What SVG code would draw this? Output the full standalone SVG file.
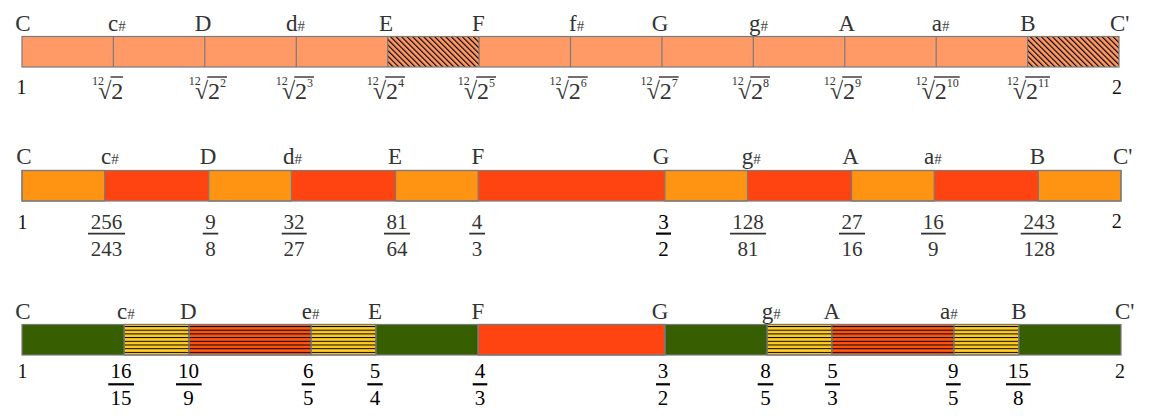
<svg xmlns="http://www.w3.org/2000/svg" width="1153" height="419" viewBox="0 0 1153 419">
<defs>
<style>
text{font-family:"Liberation Serif","DejaVu Serif",serif}
.nt{font-size:23px;fill:#333}
.nm{font-size:23px;fill:#333;text-anchor:middle}
.sh{font-size:15px;fill:#444}
.n1{font-size:20px;fill:#111;text-anchor:middle}
.fr{font-size:21px;fill:#333;text-anchor:middle}
.frb{font-size:21px;fill:#000;text-anchor:middle}
.fb{stroke:#333;stroke-width:1.8}
.fbb{stroke:#000;stroke-width:2.2}
.seg{stroke:#7b7b7b;stroke-width:1.2}
.idx{font-size:12px;fill:#333}
.rad{font-size:24px;fill:#333}
.rc{font-size:24px;fill:#333}
.ex{font-size:12px;fill:#333}
.ov{stroke:#333;stroke-width:1.4}
.top{fill:#FF9966}
.or{fill:#FF9412}
.rd{fill:#FF4411}
.gr{fill:#375E00}
.ye{fill:#FFCC22}
.ro{fill:#FF5511}
</style>
<pattern id="diag" width="3.9" height="10" patternUnits="userSpaceOnUse" patternTransform="rotate(-45)">
<rect width="1.15" height="10" fill="#000"/>
</pattern>
<pattern id="hs" x="0" y="326" width="10" height="3.7" patternUnits="userSpaceOnUse">
<rect width="10" height="1" fill="#000"/>
</pattern>
</defs>

<!-- Top bar: equal temperament -->
<g id="bar-equal">
<rect class="top" x="22" y="36.5" width="1097" height="30.5"/>
<rect fill="url(#diag)" x="387.7" y="36.5" width="91.4" height="30.5"/>
<rect fill="url(#diag)" x="1027.9" y="36.5" width="91.1" height="30.5"/>
<g class="seg">
<line x1="113.4" y1="36.5" x2="113.4" y2="67"/>
<line x1="204.8" y1="36.5" x2="204.8" y2="67"/>
<line x1="296.3" y1="36.5" x2="296.3" y2="67"/>
<line x1="387.7" y1="36.5" x2="387.7" y2="67"/>
<line x1="479.1" y1="36.5" x2="479.1" y2="67"/>
<line x1="570.5" y1="36.5" x2="570.5" y2="67"/>
<line x1="661.9" y1="36.5" x2="661.9" y2="67"/>
<line x1="753.3" y1="36.5" x2="753.3" y2="67"/>
<line x1="844.8" y1="36.5" x2="844.8" y2="67"/>
<line x1="936.2" y1="36.5" x2="936.2" y2="67"/>
<line x1="1027.6" y1="36.5" x2="1027.6" y2="67"/>
<rect x="22" y="36.5" width="1097" height="30.5" fill="none"/>
</g>
</g>
<g id="notes-equal">
<text class="nm" x="22.8" y="31">C</text>
<text class="nt" x="108" y="31">c<tspan class="sh">#</tspan></text>
<text class="nm" x="203" y="31">D</text>
<text class="nt" x="286" y="31">d<tspan class="sh">#</tspan></text>
<text class="nm" x="386" y="31">E</text>
<text class="nm" x="478.3" y="31">F</text>
<text class="nt" x="569" y="31">f<tspan class="sh">#</tspan></text>
<text class="nm" x="660" y="31">G</text>
<text class="nt" x="749" y="31">g<tspan class="sh">#</tspan></text>
<text class="nm" x="846.7" y="31">A</text>
<text class="nt" x="931.7" y="31">a<tspan class="sh">#</tspan></text>
<text class="nm" x="1028" y="31">B</text>
<text class="nt" x="1110" y="31">C'</text>
</g>
<g id="ratios-equal">
<text class="n1" x="21.5" y="94">1</text>
<text class="n1" x="1117" y="94">2</text>
<g><text class="idx" x="92" y="84.5">12</text><text class="rad" x="98.3" y="99">√</text><text class="rc" x="111.3" y="99">2</text><line class="ov" x1="110.5" y1="77" x2="123" y2="77"/></g>
<g><text class="idx" x="188.7" y="84.5">12</text><text class="rad" x="195" y="99">√</text><text class="rc" x="208" y="99">2</text><text class="ex" x="220" y="87">2</text><line class="ov" x1="207.2" y1="77" x2="227" y2="77"/></g>
<g><text class="idx" x="275.7" y="84.5">12</text><text class="rad" x="282" y="99">√</text><text class="rc" x="295" y="99">2</text><text class="ex" x="307" y="87">3</text><line class="ov" x1="294.2" y1="77" x2="314" y2="77"/></g>
<g><text class="idx" x="366.7" y="84.5">12</text><text class="rad" x="373" y="99">√</text><text class="rc" x="386" y="99">2</text><text class="ex" x="398" y="87">4</text><line class="ov" x1="385.2" y1="77" x2="405" y2="77"/></g>
<g><text class="idx" x="457.7" y="84.5">12</text><text class="rad" x="464" y="99">√</text><text class="rc" x="477" y="99">2</text><text class="ex" x="489" y="87">5</text><line class="ov" x1="476.2" y1="77" x2="496" y2="77"/></g>
<g><text class="idx" x="549.4" y="84.5">12</text><text class="rad" x="555.7" y="99">√</text><text class="rc" x="568.7" y="99">2</text><text class="ex" x="580.7" y="87">6</text><line class="ov" x1="567.9" y1="77" x2="587.7" y2="77"/></g>
<g><text class="idx" x="640.4" y="84.5">12</text><text class="rad" x="646.7" y="99">√</text><text class="rc" x="659.7" y="99">2</text><text class="ex" x="671.7" y="87">7</text><line class="ov" x1="658.9" y1="77" x2="678.7" y2="77"/></g>
<g><text class="idx" x="731.7" y="84.5">12</text><text class="rad" x="738" y="99">√</text><text class="rc" x="751" y="99">2</text><text class="ex" x="763" y="87">8</text><line class="ov" x1="750.2" y1="77" x2="770" y2="77"/></g>
<g><text class="idx" x="823.7" y="84.5">12</text><text class="rad" x="830" y="99">√</text><text class="rc" x="843" y="99">2</text><text class="ex" x="855" y="87">9</text><line class="ov" x1="842.2" y1="77" x2="862" y2="77"/></g>
<g><text class="idx" x="915.4" y="84.5">12</text><text class="rad" x="921.7" y="99">√</text><text class="rc" x="934.7" y="99">2</text><text class="ex" x="946.7" y="87">10</text><line class="ov" x1="933.9" y1="77" x2="959.7" y2="77"/></g>
<g><text class="idx" x="1006.7" y="84.5">12</text><text class="rad" x="1013" y="99">√</text><text class="rc" x="1026" y="99">2</text><text class="ex" x="1038" y="87">11</text><line class="ov" x1="1025.2" y1="77" x2="1050" y2="77"/></g>
</g>

<!-- Middle bar: Pythagorean -->
<g id="bar-pythagorean">
<rect class="rd" x="22" y="170.5" width="1099" height="30.5"/>
<g class="seg">
<rect class="or" x="22" y="170.5" width="82.6" height="30.5"/>
<rect class="or" x="208.8" y="170.5" width="82.6" height="30.5"/>
<rect class="or" x="395.6" y="170.5" width="82.5" height="30.5"/>
<rect class="or" x="664.9" y="170.5" width="82.6" height="30.5"/>
<rect class="or" x="851.6" y="170.5" width="82.6" height="30.5"/>
<rect class="or" x="1038.4" y="170.5" width="82.6" height="30.5"/>
<rect x="22" y="170.5" width="1099" height="30.5" fill="none"/>
</g>
</g>
<g id="notes-pythagorean">
<text class="nm" x="23.8" y="163.5">C</text>
<text class="nt" x="101" y="163.5">c<tspan class="sh">#</tspan></text>
<text class="nm" x="208" y="163.5">D</text>
<text class="nt" x="283" y="163.5">d<tspan class="sh">#</tspan></text>
<text class="nm" x="395" y="163.5">E</text>
<text class="nm" x="478" y="163.5">F</text>
<text class="nm" x="661" y="163.5">G</text>
<text class="nt" x="741.7" y="163.5">g<tspan class="sh">#</tspan></text>
<text class="nm" x="850.5" y="163.5">A</text>
<text class="nt" x="924" y="163.5">a<tspan class="sh">#</tspan></text>
<text class="nm" x="1037.5" y="163.5">B</text>
<text class="nt" x="1113" y="163.5">C'</text>
</g>
<g id="ratios-pythagorean">
<text class="n1" x="22.5" y="229">1</text>
<text class="n1" x="1116.7" y="228">2</text>
<text class="fr" x="106.5" y="229.3">256</text><line class="fb" x1="88" y1="233.6" x2="125" y2="233.6"/><text class="fr" x="106.5" y="255.7">243</text>
<text class="fr" x="210.5" y="229.3">9</text><line class="fb" x1="202.7" y1="233.6" x2="218.3" y2="233.6"/><text class="fr" x="210.5" y="255.7">8</text>
<text class="fr" x="294" y="229.3">32</text><line class="fb" x1="281.7" y1="233.6" x2="306.7" y2="233.6"/><text class="fr" x="294" y="255.7">27</text>
<text class="fr" x="397" y="229.3">81</text><line class="fb" x1="384" y1="233.6" x2="410" y2="233.6"/><text class="fr" x="397" y="255.7">64</text>
<text class="fr" x="477" y="229.3">4</text><line class="fb" x1="469.3" y1="233.6" x2="485" y2="233.6"/><text class="fr" x="477" y="255.7">3</text>
<text class="frb" x="663.5" y="229.3">3</text><line class="fbb" x1="656" y1="233.6" x2="671" y2="233.6"/><text class="frb" x="663.5" y="255.7">2</text>
<text class="fr" x="748" y="229.3">128</text><line class="fb" x1="730" y1="233.6" x2="766" y2="233.6"/><text class="fr" x="748" y="255.7">81</text>
<text class="fr" x="852" y="229.3">27</text><line class="fb" x1="839" y1="233.6" x2="865" y2="233.6"/><text class="fr" x="852" y="255.7">16</text>
<text class="fr" x="933.3" y="229.3">16</text><line class="fb" x1="921" y1="233.6" x2="945.7" y2="233.6"/><text class="fr" x="933.3" y="255.7">9</text>
<text class="fr" x="1039.2" y="229.3">243</text><line class="fb" x1="1020.7" y1="233.6" x2="1057.7" y2="233.6"/><text class="fr" x="1039.2" y="255.7">128</text>
</g>

<!-- Bottom bar: just intonation -->
<g id="bar-just">
<rect class="gr" x="22" y="324.5" width="1099" height="30.5"/>
<g class="seg">
<rect class="ye" x="124.3" y="324.5" width="64.8" height="30.5"/>
<rect class="ro" x="189.1" y="324.5" width="122" height="30.5"/>
<rect class="ye" x="311.1" y="324.5" width="64.7" height="30.5"/>
<rect class="rd" x="478.1" y="324.5" width="186.8" height="30.5"/>
<rect class="ye" x="767.2" y="324.5" width="64.7" height="30.5"/>
<rect class="ro" x="831.9" y="324.5" width="122" height="30.5"/>
<rect class="ye" x="953.9" y="324.5" width="64.8" height="30.5"/>
</g>
<rect fill="url(#hs)" x="124.3" y="324.5" width="251.5" height="30.5"/>
<rect fill="url(#hs)" x="767.2" y="324.5" width="251.5" height="30.5"/>
<g class="seg" fill="none">
<line x1="124.3" y1="324.5" x2="124.3" y2="355"/>
<line x1="189.1" y1="324.5" x2="189.1" y2="355"/>
<line x1="311.1" y1="324.5" x2="311.1" y2="355"/>
<line x1="375.8" y1="324.5" x2="375.8" y2="355"/>
<line x1="478.1" y1="324.5" x2="478.1" y2="355"/>
<line x1="664.9" y1="324.5" x2="664.9" y2="355"/>
<line x1="767.2" y1="324.5" x2="767.2" y2="355"/>
<line x1="831.9" y1="324.5" x2="831.9" y2="355"/>
<line x1="953.9" y1="324.5" x2="953.9" y2="355"/>
<line x1="1018.7" y1="324.5" x2="1018.7" y2="355"/>
<rect x="22" y="324.5" width="1099" height="30.5"/>
</g>
</g>
<g id="notes-just">
<text class="nm" x="22.8" y="318.5">C</text>
<text class="nt" x="117" y="318.5">c<tspan class="sh">#</tspan></text>
<text class="nm" x="188.3" y="318.5">D</text>
<text class="nt" x="301.7" y="318.5">e<tspan class="sh">#</tspan></text>
<text class="nm" x="375" y="318.5">E</text>
<text class="nm" x="478" y="318.5">F</text>
<text class="nm" x="660" y="318.5">G</text>
<text class="nt" x="761.7" y="318.5">g<tspan class="sh">#</tspan></text>
<text class="nm" x="831.7" y="318.5">A</text>
<text class="nt" x="940" y="318.5">a<tspan class="sh">#</tspan></text>
<text class="nm" x="1019" y="318.5">B</text>
<text class="nt" x="1115" y="318.5">C'</text>
</g>
<g id="ratios-just">
<text class="n1" x="22.5" y="378.3">1</text>
<text class="n1" x="1120" y="378.3">2</text>
<text class="frb" x="121" y="378.3">16</text><line class="fbb" x1="108.3" y1="384.3" x2="134" y2="384.3"/><text class="frb" x="121" y="405">15</text>
<text class="frb" x="188.5" y="378.3">10</text><line class="fbb" x1="176" y1="384.3" x2="201.7" y2="384.3"/><text class="frb" x="188.5" y="405">9</text>
<text class="frb" x="308.3" y="378.3">6</text><line class="fbb" x1="301.7" y1="384.3" x2="315" y2="384.3"/><text class="frb" x="308.3" y="405">5</text>
<text class="frb" x="375" y="378.3">5</text><line class="fbb" x1="367.3" y1="384.3" x2="382.7" y2="384.3"/><text class="frb" x="375" y="405">4</text>
<text class="frb" x="480" y="378.3">4</text><line class="fbb" x1="472.7" y1="384.3" x2="487.3" y2="384.3"/><text class="frb" x="480" y="405">3</text>
<text class="frb" x="663" y="378.3">3</text><line class="fbb" x1="656" y1="384.3" x2="670" y2="384.3"/><text class="frb" x="663" y="405">2</text>
<text class="frb" x="765.5" y="378.3">8</text><line class="fbb" x1="757.7" y1="384.3" x2="773.3" y2="384.3"/><text class="frb" x="765.5" y="405">5</text>
<text class="frb" x="832.5" y="378.3">5</text><line class="fbb" x1="825" y1="384.3" x2="840" y2="384.3"/><text class="frb" x="832.5" y="405">3</text>
<text class="frb" x="953.3" y="378.3">9</text><line class="fbb" x1="946" y1="384.3" x2="960.7" y2="384.3"/><text class="frb" x="953.3" y="405">5</text>
<text class="frb" x="1018.3" y="378.3">15</text><line class="fbb" x1="1006" y1="384.3" x2="1030.7" y2="384.3"/><text class="frb" x="1018.3" y="405">8</text>
</g>
</svg>
